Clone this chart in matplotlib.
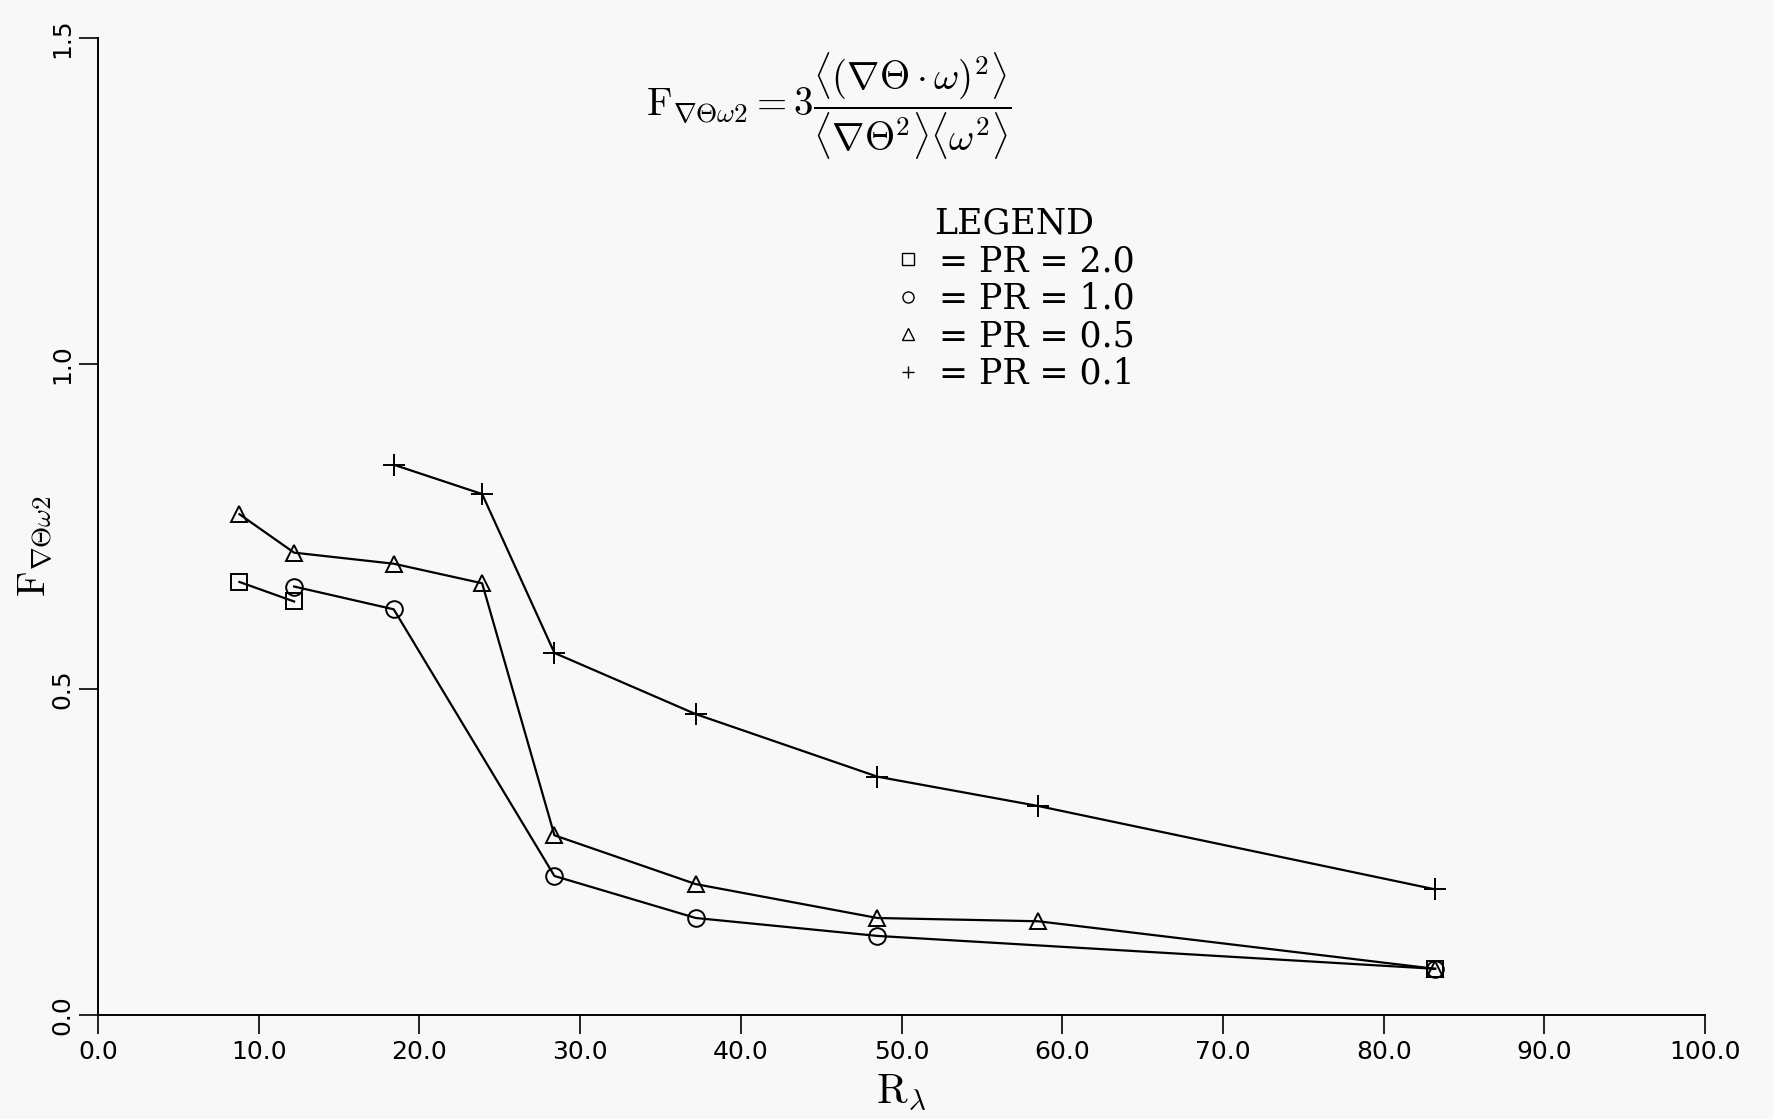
import matplotlib
matplotlib.use('Agg')
import matplotlib.pyplot as plt
import numpy as np

# data
x_pr20 = [8.8, 12.2, np.nan, 83.2]
y_pr20 = [0.665, 0.635, np.nan, 0.071]

x_pr10 = [12.2, 18.4, 28.4, 37.2, 48.5, 83.2]
y_pr10 = [0.658, 0.623, 0.2135, 0.149, 0.1215, 0.071]

x_pr05 = [8.8, 12.2, 18.4, 23.9, 28.4, 37.2, 48.5, 58.5, 83.2]
y_pr05 = [0.769, 0.710, 0.693, 0.663, 0.276, 0.201, 0.149, 0.144, 0.071]

x_pr01 = [18.4, 23.9, 28.4, 37.2, 48.5, 58.5, 83.2]
y_pr01 = [0.845, 0.800, 0.556, 0.462, 0.366, 0.321, 0.193]

legend_labels = ['= PR = 2.0', '= PR = 1.0', '= PR = 0.5', '= PR = 0.1']
x_ticks = np.arange(0, 101, 10)
y_ticks = [0.0, 0.5, 1.0, 1.5]

plt.rcParams['mathtext.fontset'] = 'cm'
plt.rcParams['font.family'] = ['DejaVu Serif']

bg = '#f8f8f8'
fig = plt.figure(figsize=(17.73, 11.19), dpi=100, facecolor=bg)
ax = fig.add_axes([0.0553, 0.0929, 0.9064, 0.873])
ax.set_facecolor(bg)

lw = 1.6
h1, = ax.plot(x_pr20, y_pr20, color='black', lw=lw, marker='s', ms=11, mfc='none', mew=1.4)
h2, = ax.plot(x_pr10, y_pr10, color='black', lw=lw, marker='o', ms=12, mfc='none', mew=1.4)
h3, = ax.plot(x_pr05, y_pr05, color='black', lw=lw, marker='^', ms=12, mfc='none', mew=1.4)
h4, = ax.plot(x_pr01, y_pr01, color='black', lw=lw, marker='+', ms=16, mew=1.4)

ax.set_xlim(0, 100)
ax.set_ylim(0, 1.5)
ax.set_xticks(x_ticks)
ax.set_xticklabels([f'{v:.1f}' for v in x_ticks], fontsize=18, family='DejaVu Sans')
ax.set_yticks(y_ticks)
ax.set_yticklabels([f'{v:.1f}' for v in y_ticks], fontsize=18, family='DejaVu Sans',
                   rotation=90, va='center')
ax.tick_params(direction='out', length=14, width=1.2)
ax.tick_params(axis='x', pad=4)
ax.tick_params(axis='y', pad=3)
for s in ['top', 'right']:
    ax.spines[s].set_visible(False)
for s in ['left', 'bottom']:
    ax.spines[s].set_linewidth(1.4)

ax.set_xlabel(r'$\mathrm{R}_{\lambda}$', fontsize=30, labelpad=4)
ax.set_ylabel(r'$\mathrm{F}_{\nabla\Theta\omega2}$', fontsize=28)
ax.yaxis.set_label_coords(-0.027, 0.48)

ax.text(0.455, 0.93,
        r'$\mathrm{F}_{\nabla\Theta\omega2} = 3\dfrac{\langle(\nabla\Theta\cdot\omega)^2\rangle}'
        r'{\langle\nabla\Theta^2\rangle\langle\omega^2\rangle}$',
        transform=ax.transAxes, ha='center', va='center', fontsize=28)

leg = ax.legend([h1, h2, h3, h4], legend_labels, title='LEGEND', loc='upper center',
                bbox_to_anchor=(0.57, 0.845), frameon=False, fontsize=25,
                title_fontsize=25, handlelength=0.8, handletextpad=0.5,
                labelspacing=0.1, borderpad=0)
for line in leg.get_lines():
    line.set_linestyle('none')
    line.set_markersize(8)
    line.set_markeredgewidth(1.0)
for t in leg.get_texts():
    t.set_family('DejaVu Serif')

fig.savefig('out.png', dpi=100, facecolor=bg)
